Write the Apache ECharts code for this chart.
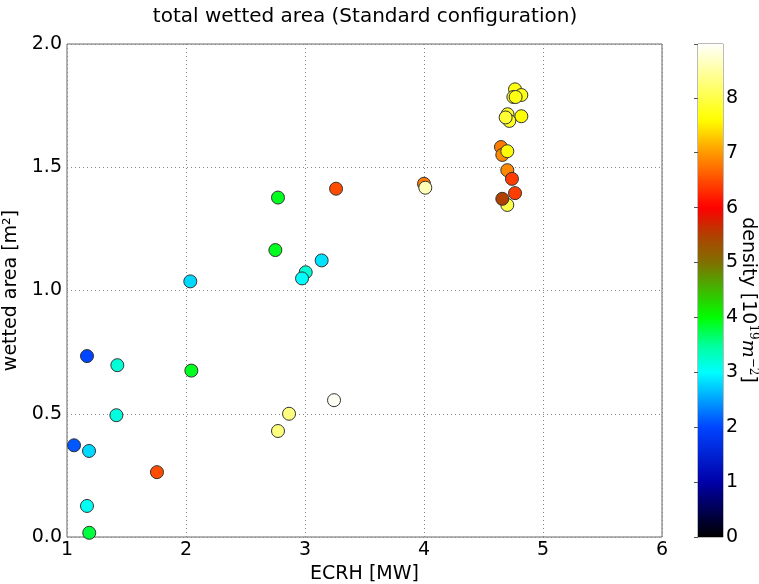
<!DOCTYPE html>
<html>
<head>
<meta charset="utf-8">
<script src="https://cdn.jsdelivr.net/npm/echarts@6/dist/echarts.min.js"></script>
<style>html,body{margin:0;padding:0;background:#fff;}#c{width:759px;height:584px;}</style>
</head>
<body>
<div id="c"></div>
<script>
// ECRH power [MW]
const ecrh = [1.168,1.423,2.045,1.415,1.059,1.185,1.756,1.168,1.187,
  3.261,2.773,2.751,3.140,3.006,2.975,2.036,3.244,2.866,2.773,
  4.000,4.011,4.765,4.751,4.818,4.770,4.702,4.818,4.717,4.686,
  4.647,4.658,4.700,4.700,4.739,4.765,4.700,4.658];
// wetted area [m^2]
const wettedArea = [0.734,0.697,0.675,0.494,0.372,0.349,0.263,0.126,0.017,
  1.413,1.377,1.164,1.122,1.074,1.049,1.037,0.555,0.500,0.430,
  1.433,1.417,1.816,1.785,1.793,1.785,1.715,1.707,1.688,1.702,
  1.582,1.550,1.565,1.488,1.453,1.395,1.347,1.372];
// density [1e19 m^-2]
const density = [2.0,3.2,3.9,3.15,2.1,2.8,6.5,3.05,3.8,
  6.5,3.9,3.9,2.85,3.2,3.0,2.8,8.95,8.3,8.3,
  6.8,8.6,7.7,7.7,7.7,7.7,7.8,7.6,7.8,7.9,
  6.8,6.9,7.6,6.9,6.4,6.4,8.0,5.5];
const xTicks = [1,2,3,4,5,6];
const yTicks = [0.0,0.5,1.0,1.5,2.0];
const cbTicks = [0,1,2,3,4,5,6,7,8];
const densityMax = 8.98;

// colormap stops (value, colour)
const cmapStops = [
  [0,'#000000'],[1,'#0000a8'],[2,'#0044ff'],[3,'#00ffff'],[3.5,'#00ff99'],
  [4,'#00ff00'],[5,'#807000'],[5.5,'#b04000'],[6,'#ff0000'],[7,'#ff9900'],
  [7.6,'#ffff00'],[9,'#ffffff']
];
function hex2rgb(h){return [parseInt(h.substr(1,2),16),parseInt(h.substr(3,2),16),parseInt(h.substr(5,2),16)];}
function cmap(v){
  for(let i=0;i<cmapStops.length-1;i++){
    const [a,ca]=cmapStops[i],[b,cb]=cmapStops[i+1];
    if(v<=b){const t=(v-a)/(b-a);const A=hex2rgb(ca),B=hex2rgb(cb);
      return 'rgb('+A.map((x,k)=>Math.round(x+(B[k]-x)*t)).join(',')+')';}
  }
  return cmapStops[cmapStops.length-1][1];
}
const N=90;
const mapColors=[];for(let i=0;i<=N;i++)mapColors.push(cmap(densityMax*i/N));
const gradStops=mapColors.map((c,i)=>({offset:i/N,color:c}));

const points = ecrh.map((x,i)=>[x,wettedArea[i],density[i]]);

const FONT='DejaVu Sans';
const chart = echarts.init(document.getElementById('c'));
chart.setOption({
  animation:false,
  backgroundColor:'#fff',
  textStyle:{fontFamily:FONT},
  title:{text:'total wetted area (Standard configuration)',left:360,top:2,textAlign:'center',
    textStyle:{fontFamily:FONT,fontSize:20,fontWeight:'normal',color:'#000'}},
  grid:[
    {left:67,top:44,width:595,height:493,show:true,borderColor:'#666',borderWidth:1,backgroundColor:'transparent',outerBoundsMode:'none',containLabel:false},
    {left:698,top:44,width:25,height:493,show:true,borderColor:'#777',borderWidth:1,outerBoundsMode:'none',containLabel:false}
  ],
  xAxis:[
    {gridIndex:0,type:'value',min:1,max:6,interval:1,name:'ECRH [MW]',nameLocation:'middle',nameGap:26,
      nameTextStyle:{fontSize:19,color:'#000',fontFamily:FONT},
      axisLine:{show:false},axisTick:{show:false},
      axisLabel:{fontSize:19,color:'#000',margin:4,fontFamily:FONT},
      splitLine:{show:true,lineStyle:{type:[1,3],color:'#888',width:1}}},
    {gridIndex:1,type:'value',min:0,max:1,show:false}
  ],
  yAxis:[
    {gridIndex:0,type:'value',min:0,max:2,interval:0.5,name:'wetted area [m²]',nameLocation:'middle',nameGap:35,
      nameTextStyle:{fontSize:19,color:'#000',fontFamily:FONT},
      axisLine:{show:false},axisTick:{show:false},
      axisLabel:{fontSize:19,color:'#000',margin:5,fontFamily:FONT,formatter:v=>v.toFixed(1)},
      splitLine:{show:true,lineStyle:{type:[1,3],color:'#888',width:1}}},
    {gridIndex:1,type:'value',min:0,max:densityMax,interval:1,position:'right',
      axisLine:{show:false},axisTick:{show:true,inside:true,length:4,lineStyle:{color:'#555'}},
      axisLabel:{fontSize:19,color:'#000',margin:3,fontFamily:FONT,
        formatter:v=>cbTicks.indexOf(v)>=0?String(v):''},
      splitLine:{show:false}}
  ],
  visualMap:{show:false,type:'continuous',dimension:2,min:0,max:densityMax,seriesIndex:0,
    inRange:{color:mapColors}},
  series:[
    {type:'scatter',xAxisIndex:0,yAxisIndex:0,data:points,symbolSize:13,
      itemStyle:{borderColor:'#333',borderWidth:1,opacity:1}},
    {type:'custom',xAxisIndex:1,yAxisIndex:1,data:[[0,0]],silent:true,z:1,
      renderItem:function(params,api){
        const p0=api.coord([0,0]);const p1=api.coord([1,densityMax]);
        return {type:'rect',shape:{x:p0[0],y:p1[1],width:p1[0]-p0[0],height:p0[1]-p1[1]},
          style:{fill:new echarts.graphic.LinearGradient(0,1,0,0,gradStops)}};
      }}
  ],
  graphic:[
    {type:'text',x:748,y:300,rotation:-Math.PI/2,
      style:{text:'{a|density [10}{s|19}{i|m}{s|−2}{a|]}',
        align:'center',verticalAlign:'middle',
        rich:{a:{fontSize:19,fontFamily:FONT,fill:'#000'},
              s:{fontSize:12,fontFamily:'DejaVu Serif',fill:'#000',verticalAlign:'top',padding:[0,0,10,0]},
              i:{fontSize:19,fontFamily:'DejaVu Serif',fontStyle:'italic',fill:'#000'}}}}
  ]
});
</script>
</body>
</html>
